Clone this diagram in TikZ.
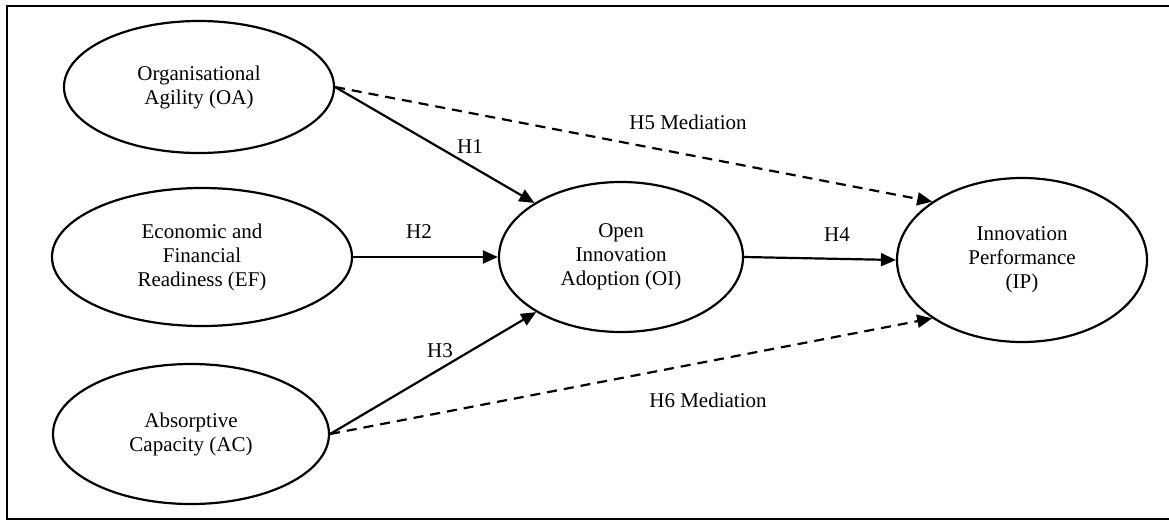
\documentclass[tikz,border=0pt]{standalone}
\usepackage{fontspec}
\setmainfont{Liberation Serif}
\usetikzlibrary{arrows.meta,shapes.geometric}
\begin{document}
\begin{tikzpicture}[x=1pt,y=-1pt,
  construct/.style={draw,ellipse,line width=2.2pt,inner sep=0pt,align=center,
    font=\fontsize{21}{24}\selectfont},
  path/.style={line width=2.2pt,-{Triangle[length=15pt,width=13pt]}},
  dpath/.style={path,dash pattern=on 10pt off 7pt},
  lbl/.style={font=\fontsize{21}{24}\selectfont,inner sep=0pt}]
\useasboundingbox (0,0) rectangle (1169,520);
\draw[line width=2pt] (1169,6) -- (7,6) -- (7,519) -- (1169,519);

\node[construct,minimum width=270pt,minimum height=132pt] (OA) at (199,87) {Organisational\\Agility (OA)};
\node[construct,minimum width=300pt,minimum height=138pt] (EF) at (202,257) {Economic and\\Financial\\Readiness (EF)};
\node[construct,minimum width=276pt,minimum height=140pt] (AC) at (191,434) {Absorptive\\Capacity (AC)};
\node[construct,minimum width=244pt,minimum height=150pt] (OI) at (621,257) {Open\\Innovation\\Adoption (OI)};
\node[construct,minimum width=250pt,minimum height=164pt] (IP) at (1022,260) {Innovation\\Performance\\(IP)};

\draw[path] (OA.east) -- (OI.148);
\draw[dpath] (OA.east) -- (IP.147);
\draw[path] (EF.east) -- (OI.west);
\draw[path] (OI.east) -- (IP.west);
\draw[path] (AC.east) -- (OI.213);
\draw[dpath] (AC.east) -- (IP.213);

\node[lbl] (h1) at (470,147) {H1};
\node[lbl] (h2) at (419,232) {H2};
\node[lbl] (h3) at (440,351) {H3};
\node[lbl] (h4) at (837,235) {H4};
\node[lbl] (h5) at (688,122) {H5 Mediation};
\node[lbl] (h6) at (708,400) {H6 Mediation};
\end{tikzpicture}
\end{document}
